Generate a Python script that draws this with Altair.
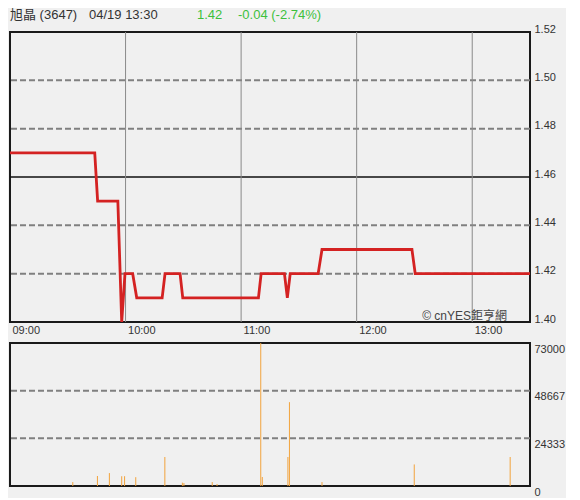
import altair as alt
import pandas as pd

# ---- text ----
stock_name = "旭晶 (3647)"
stamp = "04/19 13:30"
last_price = "1.42"
change_text = "-0.04 (-2.74%)"
watermark = "© cnYES鉅亨網"

# ---- time axis (minutes after 09:00) ----
time_ticks = [0, 60, 120, 180, 240]
time_labels = ["09:00", "10:00", "11:00", "12:00", "13:00"]
time_domain = [0, 270]

# ---- price series ----
price_minutes = [0, 44, 45.5, 56, 58, 59.7, 63.7, 65.8, 79, 80.5, 88.3, 89.7,
                 129, 130.4, 142.5, 144, 145.5, 160, 162, 208.7, 210.4, 270]
price_values = [1.47, 1.47, 1.45, 1.45, 1.40, 1.42, 1.42, 1.41, 1.41, 1.42, 1.42, 1.41,
                1.41, 1.42, 1.42, 1.41, 1.42, 1.42, 1.43, 1.43, 1.42, 1.42]
price_ticks = [1.40, 1.42, 1.44, 1.46, 1.48, 1.50, 1.52]
dashed_price_levels = [1.42, 1.44, 1.48, 1.50]
prev_close = [1.46]

# ---- volume series ----
vol_minutes = [32.6, 45.4, 51.6, 58, 59.5, 65.3, 80.4, 89.5, 90.3, 105, 107.5,
               130.2, 131, 144.3, 145.1, 162, 209.9, 259.7]
vol_values = [2000, 5100, 6600, 5000, 5000, 4500, 14800, 1700, 1500, 2000, 1000,
              73000, 4600, 14800, 42800, 2000, 11000, 14800]
vol_ticks = [0, 24333, 48667, 73000]
dashed_vol_levels = [24333, 48667]

price_df = pd.DataFrame({"m": price_minutes, "p": price_values})
vol_df = pd.DataFrame({"m": vol_minutes, "v": vol_values})

FONT = "Liberation Sans, Noto Sans CJK TC, sans-serif"
W = 520
H_TOP = 290
H_BOT = 143

xscale = alt.Scale(domain=time_domain, nice=False, zero=False)
label_expr = "".join(f"datum.value == {v} ? '{l}' : " for v, l in zip(time_ticks, time_labels)) + "''"

x_axis_top = alt.Axis(values=time_ticks, labelExpr=label_expr, labelAlign="left",
                      labelOffset=2, labelPadding=2, ticks=False, tickSize=0,
                      domain=False, grid=False, title=None, labelFlush=False,
                      labelFontSize=11, labelColor="#333", labelFont=FONT)

pscale = alt.Scale(domain=[1.40, 1.52], nice=False, zero=False)
y_axis_top = alt.Axis(orient="right", values=price_ticks, format=".2f", grid=False,
                      domain=False, ticks=False, tickSize=0, labelPadding=4,
                      labelOffset=-3, title=None, labelFlush=False,
                      labelFontSize=11, labelColor="#333", labelFont=FONT)

hdash = alt.Chart(pd.DataFrame({"y": dashed_price_levels})).mark_rule(
    color="#808080", strokeWidth=2, strokeDash=[6, 3]
).encode(y=alt.Y("y:Q", scale=pscale, axis=y_axis_top))

close_line = alt.Chart(pd.DataFrame({"y": prev_close})).mark_rule(
    color="#111", strokeWidth=1.5
).encode(y=alt.Y("y:Q", scale=pscale, axis=y_axis_top))

vgrid = alt.Chart(pd.DataFrame({"x": time_ticks[1:]})).mark_rule(
    color="#8a8a8a", strokeWidth=1
).encode(x=alt.X("x:Q", scale=xscale, axis=x_axis_top))

price_line = alt.Chart(price_df).mark_line(
    color="#d42222", strokeWidth=2.8, interpolate="linear", clip=True
).encode(
    x=alt.X("m:Q", scale=xscale, axis=x_axis_top),
    y=alt.Y("p:Q", scale=pscale, axis=y_axis_top),
)

wm = alt.Chart(pd.DataFrame({"t": [watermark]})).mark_text(
    align="right", baseline="middle", fontSize=12, color="#444", font=FONT
).encode(text="t:N", x=alt.value(497), y=alt.value(284))

def header(txt, xpos, color):
    return alt.Chart(pd.DataFrame({"t": [txt]})).mark_text(
        align="left", baseline="middle", fontSize=13, color=color, font=FONT
    ).encode(text="t:N", x=alt.value(xpos), y=alt.value(-17))

top = alt.layer(
    hdash, close_line, vgrid, price_line, wm,
    header(stock_name, 0, "#333"),
    header(stamp, 79, "#333"),
    header(last_price, 187, "#3cc03c"),
    header(change_text, 228, "#3cc03c"),
).properties(width=W, height=H_TOP)

vscale = alt.Scale(domain=[0, 73000], nice=False, zero=True)
y_axis_bot = alt.Axis(orient="right", values=vol_ticks, format="d", grid=False,
                      domain=False, ticks=False, tickSize=0, labelPadding=4,
                      labelBaseline="top", labelOffset=0, title=None, labelFlush=False,
                      labelFontSize=11, labelColor="#333", labelFont=FONT)

vdash = alt.Chart(pd.DataFrame({"y": dashed_vol_levels})).mark_rule(
    color="#808080", strokeWidth=2, strokeDash=[6, 3]
).encode(y=alt.Y("y:Q", scale=vscale, axis=y_axis_bot))

vol_bars = alt.Chart(vol_df).mark_rule(color="#f2a33c", strokeWidth=1).encode(
    x=alt.X("m:Q", scale=xscale, axis=None),
    y=alt.Y("v:Q", scale=vscale, axis=y_axis_bot),
    y2=alt.datum(0),
)

bottom = alt.layer(vdash, vol_bars).properties(width=W, height=H_BOT)

chart = alt.vconcat(top, bottom, spacing=21, bounds="flush").properties(
    padding={"left": 0, "top": 0, "right": 0, "bottom": 0}, background="#f0f0f0"
).configure_view(
    stroke="#1a1a1a", strokeWidth=2
)

chart.save("out.html", embed_options={"renderer": "svg", "actions": False})
